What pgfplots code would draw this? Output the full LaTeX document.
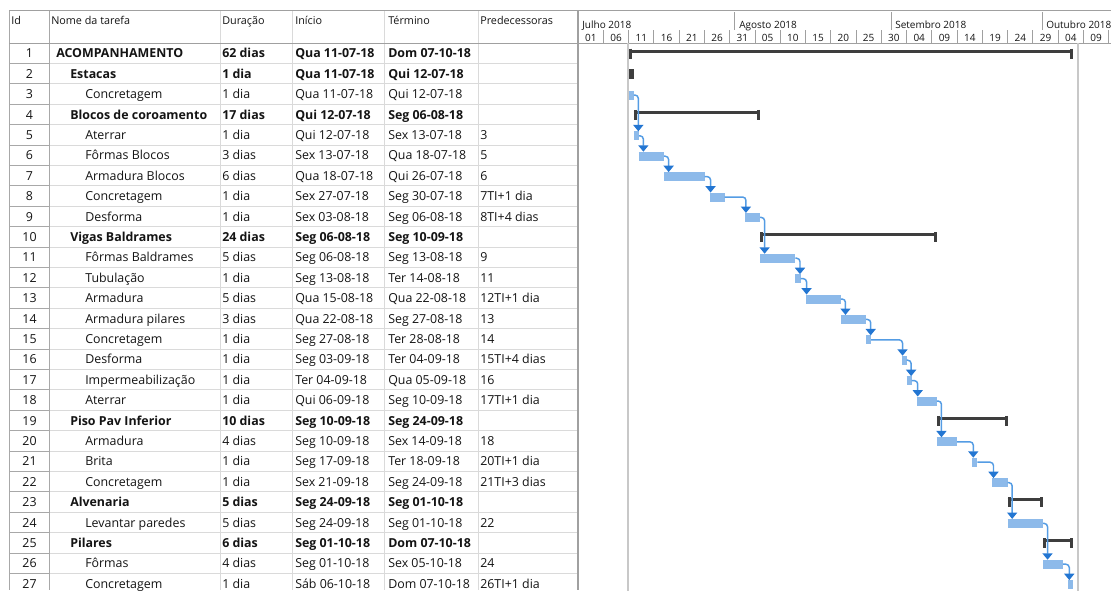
\documentclass[border=0pt]{standalone}
\usepackage{pgfplots}
\pgfplotsset{compat=1.18}
\usepackage{pgfplotstable}
\usepackage{fontspec}
\setmainfont{Open Sans}
\usetikzlibrary{arrows.meta}

\definecolor{taskblue}{RGB}{141,186,234}
\definecolor{linkblue}{RGB}{84,156,228}
\definecolor{headblue}{RGB}{35,118,210}
\definecolor{sumgray}{RGB}{62,62,62}
\definecolor{gridgray}{RGB}{218,218,218}
\definecolor{idgray}{RGB}{168,168,168}
\definecolor{bordergray}{RGB}{160,160,160}
\definecolor{projline}{RGB}{200,200,200}
\definecolor{txt}{RGB}{20,20,20}

\newcommand{\bodyfont}{\fontsize{9.3pt}{11pt}\selectfont}
\newcommand{\headfont}{\fontsize{8.1pt}{10pt}\selectfont}
\newcommand{\ganttfont}{\fontsize{7.5pt}{9pt}\selectfont}

% task bars (days from 01-07-2018)
\pgfplotstableread{
row start end
3 10 11
5 11 12
6 12 17
7 17 25
8 26 29
9 33 36
11 36 43
12 43 44
13 45 52
14 52 57
15 57 58
16 64 65
17 65 66
18 67 71
20 71 75
21 78 79
22 82 85
24 85 92
26 92 96
27 97 98
}\tasks

% summary bars
\pgfplotstableread{
row start end
1 10 98
2 10 11
4 11 36
10 36 71
19 71 85
23 85 92
25 92 98
}\summaries

\newcommand{\trow}[8]{%
  \pgfmathsetmacro{\yb}{43+20.4*(#1-0.5)+4.6}%
  \node[anchor=base, inner sep=0pt, font=\bodyfont, text=txt] at (29.5,\yb) {#1};%
  \node[anchor=base west, inner sep=0pt, font=\bodyfont#3, text=txt] at (#2,\yb) {#4};%
  \node[anchor=base west, inner sep=0pt, font=\bodyfont#3, text=txt] at (222,\yb) {#5};%
  \node[anchor=base west, inner sep=0pt, font=\bodyfont#3, text=txt] at (295,\yb) {#6};%
  \node[anchor=base west, inner sep=0pt, font=\bodyfont#3, text=txt] at (388,\yb) {#7};%
  \node[anchor=base west, inner sep=0pt, font=\bodyfont#3, text=txt] at (480,\yb) {#8};%
}

\newcommand{\tasklink}[4]{%
  \addplot[forget plot, linkblue, line width=1.1pt, rounded corners=2.5pt,
    -{Triangle[width=7.5pt,length=4.8pt,color=headblue]}]
    coordinates {(#1,#2) (#3,#2) (#3,#4)};%
}

\begin{document}
\begin{tikzpicture}
\path[use as bounding box] (0,0) rectangle (833.25pt,-442.5pt);
\clip (0,0) rectangle (833.25pt,-442.5pt);
\begin{scope}[x=0.75pt,y=-0.75pt]
  \fill[white] (0,0) rectangle (1111,590);
  % row lines
  \foreach \r in {1,...,26}{%
    \pgfmathsetmacro{\yy}{43+20.4*\r}%
    \draw[gridgray, line width=0.75pt] (49,\yy) -- (578,\yy);
    \draw[idgray, line width=0.75pt] (9,\yy) -- (49,\yy);
  }
  % column lines
  \foreach \xx in {220,292,384,478}{\draw[gridgray, line width=0.75pt] (\xx,10) -- (\xx,590);}
  \draw[idgray, line width=0.75pt] (9,10) -- (9,590);
  \draw[idgray, line width=0.75pt] (49,10) -- (49,590);
  \draw[bordergray, line width=1.2pt] (578,10) -- (578,590);
  \draw[bordergray, line width=0.75pt] (9,10) -- (1111,10);
  \draw[bordergray, line width=0.75pt] (9,43) -- (1111,43);
  % header texts
  \foreach \xx/\lbl in {11/Id, 51/Nome da tarefa, 222/Duração, 295/Início, 388/Término, 480/Predecessoras}{%
    \node[anchor=base west, inner sep=0pt, font=\headfont, text=txt] at (\xx,24.5) {\lbl};
  }
  % timescale dividers
  \foreach \k in {1,...,21}{%
    \pgfmathsetmacro{\xx}{578.2+5.052*5*\k}%
    \draw[bordergray, line width=0.75pt] (\xx,30) -- (\xx,43);
  }
  \foreach \d in {31,62,92}{%
    \pgfmathsetmacro{\xx}{578.2+5.052*\d}%
    \draw[bordergray, line width=0.75pt] (\xx,12) -- (\xx,30);
  }
  \node[anchor=base west, inner sep=0pt, font=\ganttfont, text=txt] at (582,28.5) {Julho 2018};
  \node[anchor=base west, inner sep=0pt, font=\ganttfont, text=txt] at (739,28.5) {Agosto 2018};
  \node[anchor=base west, inner sep=0pt, font=\ganttfont, text=txt] at (895,28.5) {Setembro 2018};
  \node[anchor=base west, inner sep=0pt, font=\ganttfont, text=txt] at (1046,28.5) {Outubro 2018};
  % table rows
  \trow{1}{56}{\bfseries}{ACOMPANHAMENTO}{62 dias}{Qua 11-07-18}{Dom 07-10-18}{}
  \trow{2}{70}{\bfseries}{Estacas}{1 dia}{Qua 11-07-18}{Qui 12-07-18}{}
  \trow{3}{85}{}{Concretagem}{1 dia}{Qua 11-07-18}{Qui 12-07-18}{}
  \trow{4}{70}{\bfseries}{Blocos de coroamento}{17 dias}{Qui 12-07-18}{Seg 06-08-18}{}
  \trow{5}{85}{}{Aterrar}{1 dia}{Qui 12-07-18}{Sex 13-07-18}{3}
  \trow{6}{85}{}{Fôrmas Blocos}{3 dias}{Sex 13-07-18}{Qua 18-07-18}{5}
  \trow{7}{85}{}{Armadura Blocos}{6 dias}{Qua 18-07-18}{Qui 26-07-18}{6}
  \trow{8}{85}{}{Concretagem}{1 dia}{Sex 27-07-18}{Seg 30-07-18}{7TI+1 dia}
  \trow{9}{85}{}{Desforma}{1 dia}{Sex 03-08-18}{Seg 06-08-18}{8TI+4 dias}
  \trow{10}{70}{\bfseries}{Vigas Baldrames}{24 dias}{Seg 06-08-18}{Seg 10-09-18}{}
  \trow{11}{85}{}{Fôrmas Baldrames}{5 dias}{Seg 06-08-18}{Seg 13-08-18}{9}
  \trow{12}{85}{}{Tubulação}{1 dia}{Seg 13-08-18}{Ter 14-08-18}{11}
  \trow{13}{85}{}{Armadura}{5 dias}{Qua 15-08-18}{Qua 22-08-18}{12TI+1 dia}
  \trow{14}{85}{}{Armadura pilares}{3 dias}{Qua 22-08-18}{Seg 27-08-18}{13}
  \trow{15}{85}{}{Concretagem}{1 dia}{Seg 27-08-18}{Ter 28-08-18}{14}
  \trow{16}{85}{}{Desforma}{1 dia}{Seg 03-09-18}{Ter 04-09-18}{15TI+4 dias}
  \trow{17}{85}{}{Impermeabilização}{1 dia}{Ter 04-09-18}{Qua 05-09-18}{16}
  \trow{18}{85}{}{Aterrar}{1 dia}{Qui 06-09-18}{Seg 10-09-18}{17TI+1 dia}
  \trow{19}{70}{\bfseries}{Piso Pav Inferior}{10 dias}{Seg 10-09-18}{Seg 24-09-18}{}
  \trow{20}{85}{}{Armadura}{4 dias}{Seg 10-09-18}{Sex 14-09-18}{18}
  \trow{21}{85}{}{Brita}{1 dia}{Seg 17-09-18}{Ter 18-09-18}{20TI+1 dia}
  \trow{22}{85}{}{Concretagem}{1 dia}{Sex 21-09-18}{Seg 24-09-18}{21TI+3 dias}
  \trow{23}{70}{\bfseries}{Alvenaria}{5 dias}{Seg 24-09-18}{Seg 01-10-18}{}
  \trow{24}{85}{}{Levantar paredes}{5 dias}{Seg 24-09-18}{Seg 01-10-18}{22}
  \trow{25}{70}{\bfseries}{Pilares}{6 dias}{Seg 01-10-18}{Dom 07-10-18}{}
  \trow{26}{85}{}{Fôrmas}{4 dias}{Seg 01-10-18}{Sex 05-10-18}{24}
  \trow{27}{85}{}{Concretagem}{1 dia}{Sáb 06-10-18}{Dom 07-10-18}{26TI+1 dia}
\end{scope}

\begin{axis}[
  at={(433.65pt,-32.25pt)}, anchor=north west,
  scale only axis, width=399.6pt, height=410.25pt,
  xmin=0, xmax=105.46, ymin=-27.314, ymax=-0.5,
  axis line style={draw=none},
  ytick=\empty,
  xtick={2.5,7.5,...,102.5},
  xticklabels={01,06,11,16,21,26,31,05,10,15,20,25,30,04,09,14,19,24,29,04,09},
  xticklabel pos=upper,
  tick style={draw=none},
  xticklabel style={font=\ganttfont, text=txt, anchor=base, inner sep=0pt, yshift=1.2pt},
  clip=false,
]
  % project start / finish lines
  \addplot[forget plot, projline, line width=1.5pt] coordinates {(9.9,-0.5) (9.9,-27.4)};
  \addplot[forget plot, projline, line width=1.5pt] coordinates {(98.95,-0.5) (98.95,-27.4)};
  % summary bars
  \addplot[forget plot, draw=none, mark=none,
    error bars/.cd, x dir=plus, x explicit, error mark=none,
    error bar style={draw=sumgray, line width=2.25pt}]
    table[x=start, y expr=-\thisrow{row}+0.1, x error expr=\thisrow{end}-\thisrow{start}] {\summaries};
  \addplot[forget plot, only marks, mark=|, mark size=3.75pt,
    mark options={draw=sumgray, line width=2.2pt}]
    table[x expr=\thisrow{start}+0.3, y expr=-\thisrow{row}-0.02] {\summaries};
  \addplot[forget plot, only marks, mark=|, mark size=3.75pt,
    mark options={draw=sumgray, line width=2.2pt}]
    table[x expr=\thisrow{end}-0.3, y expr=-\thisrow{row}-0.02] {\summaries};
  % task bars
  \addplot[forget plot, draw=none, mark=none,
    error bars/.cd, x dir=plus, x explicit, error mark=none,
    error bar style={draw=taskblue, line width=6.75pt}]
    table[x=start, y expr=-\thisrow{row}-0.05, x error expr=\thisrow{end}-\thisrow{start}] {\tasks};
  % links: pred end, pred y, vertical x, successor top
  \tasklink{11}{-3.05}{11.9}{-4.83}
  \tasklink{12}{-5.05}{12.9}{-5.83}
  \tasklink{17}{-6.05}{17.9}{-6.83}
  \tasklink{25}{-7.05}{26.2}{-7.83}
  \tasklink{29}{-8.05}{33.2}{-8.83}
  \tasklink{36}{-9.05}{36.9}{-10.83}
  \tasklink{43}{-11.05}{43.9}{-11.83}
  \tasklink{44}{-12.05}{45.2}{-12.83}
  \tasklink{52}{-13.05}{52.9}{-13.83}
  \tasklink{57}{-14.05}{57.9}{-14.83}
  \tasklink{58}{-15.05}{64.2}{-15.83}
  \tasklink{65}{-16.05}{65.9}{-16.83}
  \tasklink{66}{-17.05}{67.2}{-17.83}
  \tasklink{71}{-18.05}{71.9}{-19.83}
  \tasklink{75}{-20.05}{78.2}{-20.83}
  \tasklink{79}{-21.05}{82.2}{-21.83}
  \tasklink{85}{-22.05}{85.9}{-23.83}
  \tasklink{92}{-24.05}{92.9}{-25.83}
  \tasklink{96}{-26.05}{97.2}{-26.83}
\end{axis}
\end{tikzpicture}
\end{document}
